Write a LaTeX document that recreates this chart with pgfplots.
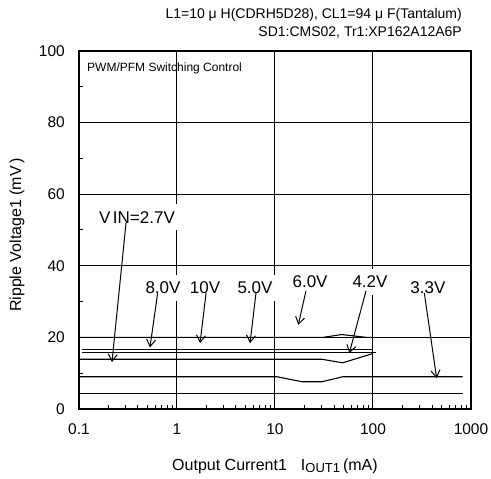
\documentclass[border=0pt]{standalone}
\usepackage{fontspec}
\setmainfont{Liberation Sans}
\usepackage{pgfplots}
\pgfplotsset{compat=1.18}
\usetikzlibrary{arrows.meta}
\begin{document}
\fontsize{15}{18}\selectfont
\begin{tikzpicture}
\begin{semilogxaxis}[name=ax, scale only axis, width=392pt, height=358pt,
  xmin=0.1, xmax=1000, ymin=0, ymax=100,
  xtick={0.1,1,10,100,1000}, xticklabels={0.1,1,10,100,1000},
  minor xtick={0.2,0.3,0.4,0.5,0.6,0.7,0.8,0.9,2,3,4,5,6,7,8,9,20,30,40,50,60,70,80,90,200,300,400,500,600,700,800,900},
  ytick={0,20,40,60,80,100}, yticklabels={0,20,40,60,80,100},
  minor ytick={10,30,50,70,90},
  /pgf/number format/assume math mode=true,
  grid=major, major grid style={black, line width=1pt},
  axis line style={line width=1.4pt},
  tick pos=left, tick align=inside, major tick length=0pt, minor tick length=4pt,
  minor tick style={line width=1pt, black},
  xticklabel style={anchor=base, yshift=-26pt, inner sep=0pt, font=\fontsize{15.5}{18}\selectfont},
  yticklabel style={anchor=east, xshift=-14pt, inner sep=0pt, font=\fontsize{15.5}{18}\selectfont},
  xlabel={Output Current1\hspace{14pt}I{\fontsize{13}{13}\selectfont\raisebox{-1.5pt}{OUT1}}\hspace{3pt}(mA)},
  ylabel={Ripple Voltage1 (mV\,)},
  xlabel style={at={(axis description cs:0.5,-0.161)}, anchor=center, font=\fontsize{16}{18}\selectfont},
  ylabel style={at={(axis description cs:-0.158,0.486)}, anchor=center, font=\fontsize{16}{18}\selectfont},
]
\addplot[black, line width=1.1pt] coordinates {(0.1,20) (31,20) (48,20.8) (86,20) (100,20)};
\addplot[black, line width=1.1pt] coordinates {(0.107,16.6) (100,16.6)};
\addplot[black, line width=1.1pt] coordinates {(0.107,15.8) (107,15.8)};
\addplot[black, line width=1.1pt] coordinates {(0.1,13.9) (30,13.9) (49,12.9) (100,15.5)};
\addplot[black, line width=1.1pt] coordinates {(0.1,9) (10.5,9) (19,7.6) (30,7.6) (49,9) (820,9)};
\addplot[black, line width=1.1pt] coordinates {(0.1,4.4) (820,4.4)};

\tikzset{lab/.style={fill=white, inner xsep=3pt, inner ysep=7pt, font=\fontsize{17}{19}\selectfont},
         arr/.style={-{Straight Barb[length=7pt,width=9pt]}, line width=1pt}}
\node[lab, inner xsep=5pt] at (axis cs:0.391,53.6) {V\kern2.5pt IN=2.7V};
\node[lab] at (axis cs:0.72,33.8) {8.0V};
\node[lab] at (axis cs:1.93,33.8) {10V};
\node[lab] at (axis cs:6.25,33.8) {5.0V};
\node[lab] at (axis cs:22.8,35.5) {6.0V};
\node[lab] at (axis cs:93.2,35.5) {4.2V};
\node[lab] at (axis cs:364,33.8) {3.3V};
\draw[arr] (axis cs:0.302,52) -- (axis cs:0.217,13.1);
\draw[arr] (axis cs:0.635,32.4) -- (axis cs:0.53,17.2);
\draw[arr] (axis cs:1.98,32.4) -- (axis cs:1.72,18.4);
\draw[arr] (axis cs:6.4,32.4) -- (axis cs:5.56,18.4);
\draw[arr] (axis cs:20.7,33.0) -- (axis cs:17.3,23.5);
\draw[arr] (axis cs:84.9,33.0) -- (axis cs:57.3,15.6);
\draw[arr] (axis cs:334,32.4) -- (axis cs:446,8.6);
\end{semilogxaxis}
\node[anchor=west, inner sep=0pt, font=\fontsize{12}{14}\selectfont] at ([shift={(8pt,-17pt)}]ax.north west) {PWM/PFM Switching Control};
\node[anchor=east, inner sep=0pt, font=\fontsize{14}{16}\selectfont] at ([shift={(-9pt,36pt)}]ax.north east) {L1=10 μ H(CDRH5D28), CL1=94 μ F(Tantalum)};
\node[anchor=east, inner sep=0pt, font=\fontsize{14}{16}\selectfont] at ([shift={(-9pt,18pt)}]ax.north east) {SD1:CMS02, Tr1:XP162A12A6P};
\pgfresetboundingbox
\path ([shift={(-79pt,-70pt)}]ax.south west) rectangle ([shift={(20pt,51pt)}]ax.north east);
\end{tikzpicture}
\end{document}
